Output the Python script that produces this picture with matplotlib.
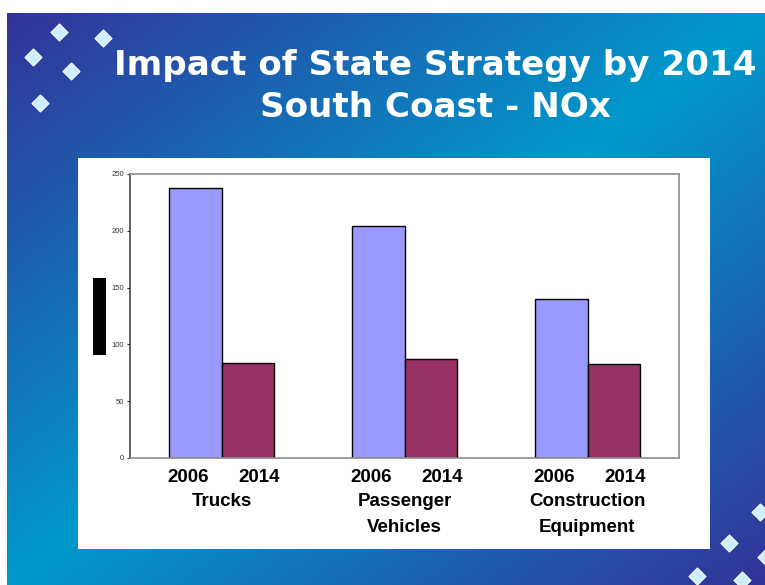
import numpy as np
import matplotlib
matplotlib.use("Agg")
import matplotlib.pyplot as plt
from matplotlib.patches import Rectangle

categories = ["Trucks", "Passenger\nVehicles", "Construction\nEquipment"]
years = ["2006", "2014"]
nox_2006 = [238, 204, 140]
nox_2014 = [84, 87, 83]
y_ticks = [0, 50, 100, 150, 200, 250]

W, H = 765, 585
fig = plt.figure(figsize=(W / 100, H / 100), dpi=100)

# slide background, drawn in pixel coordinates
bg = fig.add_axes([0, 0, 1, 1], zorder=0)
bg.set_xlim(0, W)
bg.set_ylim(H, 0)
bg.axis("off")

xx, yy = np.meshgrid(np.linspace(0, 1, 300), np.linspace(0, 1, 240))
s = 1 - np.abs(xx + yy - 1)  # 0 at top-left/bottom-right, 1 on the diagonal
indigo = np.array([51, 51, 153]) / 255
cyan = np.array([0, 153, 204]) / 255
grad = indigo + s[..., None] * (cyan - indigo)
bg.imshow(grad, extent=(7, W, H, 13), aspect="auto", interpolation="bilinear")

bg.add_patch(Rectangle((78, 158), 632, 391, facecolor="white", edgecolor="none"))
bg.add_patch(Rectangle((93, 278), 13, 77, facecolor="black", edgecolor="none"))

diamonds_x = [59, 103, 33, 71, 40, 760, 729, 697, 742, 766]
diamonds_y = [32, 38, 57, 71, 103, 512, 543, 576, 580, 557]
bg.scatter(diamonds_x, diamonds_y, marker="D", s=75, c="#cdeeff",
           edgecolors="white", linewidths=0.8, zorder=3)

fig.text(435 / W, 1 - 86.5 / H, "Impact of State Strategy by 2014\nSouth Coast - NOx",
         ha="center", va="center", color="white", fontsize=24.6, fontweight="bold",
         family="DejaVu Sans", linespacing=1.36)

# the chart itself
ax = fig.add_axes([130 / W, 1 - 458 / H, (679 - 130) / W, (458 - 174) / H], zorder=1)
ax.set_facecolor("white")
x = np.arange(len(categories))
width = 1 / 3.5
ax.bar(x - width / 2, nox_2006, width, color="#9999ff", edgecolor="black", linewidth=1)
ax.bar(x + width / 2, nox_2014, width, color="#993366", edgecolor="black", linewidth=1)

ax.set_xlim(-0.5, len(categories) - 0.5)
ax.set_ylim(0, 250)
ax.set_yticks(y_ticks)
ax.set_yticklabels([str(t) for t in y_ticks], fontsize=5.5, family="Liberation Sans")
ax.tick_params(axis="y", length=2.5, width=0.8, pad=2, colors="#333333")
ax.set_xticks([])
for side in ["top", "right", "bottom"]:
    ax.spines[side].set_color("#8c8c8c")
    ax.spines[side].set_linewidth(1.2)
ax.spines["left"].set_color("#444444")
ax.spines["left"].set_linewidth(1.2)

lab_kw = dict(xycoords=("data", "axes fraction"), textcoords="offset points",
              ha="center", fontsize=13.5, fontweight="bold", family="Liberation Sans")
for i, cat in enumerate(categories):
    ax.annotate(years[0], xy=(x[i], 0), xytext=(-24, -14), va="center", **lab_kw)
    ax.annotate(years[1], xy=(x[i], 0), xytext=(27, -14), va="center", **lab_kw)
    ax.annotate(cat, xy=(x[i], 0), xytext=(0, -25), va="top", linespacing=1.75, **lab_kw)

fig.savefig("out.png", dpi=100, facecolor="white")
